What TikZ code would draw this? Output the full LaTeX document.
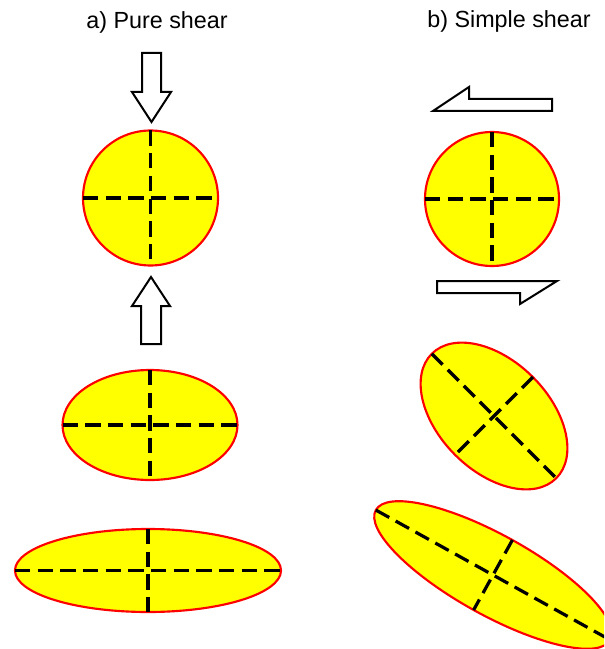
\documentclass[tikz,border=0pt]{standalone}
\usepackage{fontspec}
\setmainfont{Liberation Sans}
\definecolor{StrainFill}{RGB}{255,255,0}
\definecolor{StrainEdge}{RGB}{255,0,0}

\begin{document}
\begin{tikzpicture}[x=0.75pt, y=-0.75pt,
  strain/.style={draw=StrainEdge, fill=StrainFill, line width=1.6pt},
  axis/.style={line width=2.4pt, dash pattern=on 11.5pt off 5.5pt},
  push/.style={draw, fill=white, line width=1.5pt, line join=miter},
  every node/.style={font=\fontsize{17.5}{21}\selectfont}]
  \useasboundingbox (0,0) rectangle (604,649);
  \clip (0,0) rectangle (604,649);

  % titles
  \node[anchor=base] (pure) at (157,29) {a) Pure shear};
  \node[anchor=base] (simple) at (509,28) {b) Simple shear};

  % centres of the strain markers
  \coordinate (pa) at (150.5,198);
  \coordinate (pb) at (150,425);
  \coordinate (pc) at (148,570.5);
  \coordinate (sa) at (492,199);
  \coordinate (sb) at (494,416);
  \coordinate (sc) at (493,575);

  % a) pure shear
  \draw[push] (142,53) -- (161,53) -- (161,92) -- (171,92) -- (151.5,122)
    -- (132,92) -- (142,92) -- cycle;
  \draw[push] (141,344) -- (161,344) -- (161,306) -- (170,306) -- (151,277)
    -- (132,306) -- (141,306) -- cycle;
  \begin{scope}[shift={(pa)}]
    \draw[strain] (0,0) circle [radius=67.5];
    \draw[axis] (-67.5,0) -- (67.5,0);
    \draw[axis] (0,-67.5) -- (0,67.5);
  \end{scope}
  \begin{scope}[shift={(pb)}]
    \draw[strain] (0,0) ellipse [x radius=87.5, y radius=55];
    \draw[axis] (-87.5,0) -- (87.5,0);
    \draw[axis] (0,-55) -- (0,55);
  \end{scope}
  \begin{scope}[shift={(pc)}]
    \draw[strain] (0,0) ellipse [x radius=133, y radius=41.5];
    \draw[axis] (-133,0) -- (133,0);
    \draw[axis] (0,-41.5) -- (0,41.5);
  \end{scope}

  % b) simple shear
  \draw[push] (433,111) -- (469,87) -- (469,99) -- (552,99) -- (552,111) -- cycle;
  \draw[push] (437,281) -- (557,281) -- (520,304) -- (520,293) -- (437,293) -- cycle;
  \begin{scope}[shift={(sa)}]
    \draw[strain] (0,0) circle [radius=67];
    \draw[axis] (-67,0) -- (67,0);
    \draw[axis] (0,-67) -- (0,67);
  \end{scope}
  \begin{scope}[shift={(sb)}, rotate=-45]
    \draw[strain] (0,0) ellipse [x radius=88, y radius=55];
    \draw[axis] (-88,0) -- (88,0);
    \draw[axis] (0,-55) -- (0,55);
  \end{scope}
  \begin{scope}[shift={(sc)}, rotate=-29]
    \draw[strain] (0,0) ellipse [x radius=134, y radius=40];
    \draw[axis] (-134,0) -- (134,0);
    \draw[axis] (0,-40) -- (0,40);
  \end{scope}
\end{tikzpicture}
\end{document}
